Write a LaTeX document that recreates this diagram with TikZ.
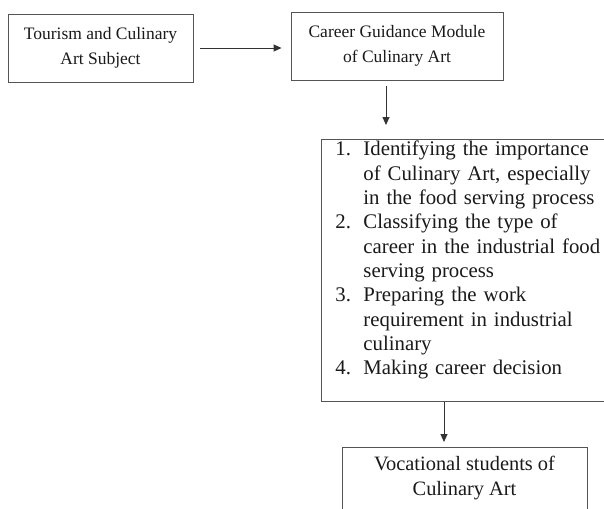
\documentclass[tikz,border=0pt]{standalone}
\usepackage{fontspec}
\setmainfont{Liberation Serif}
\usetikzlibrary{arrows.meta,calc}
\definecolor{boxline}{HTML}{555555}
\definecolor{txt}{HTML}{1A1A1A}
\begin{document}
\begin{tikzpicture}[x=1pt,y=-1pt,
  box/.style={draw=boxline,line width=0.9pt,rectangle,text=txt,
    font=\fontsize{17.5}{24.5}\selectfont,align=center,inner sep=0pt},
  arr/.style={draw=black!80,line width=0.9pt,-{Triangle[length=8pt,width=7pt]}}]
\useasboundingbox (0,0) rectangle (604,508);
\fill[white] (0,0) rectangle (604,508);
\node[box,minimum width=185pt,minimum height=68pt] (b1) at (100.5,48)
  {Tourism and Culinary\\Art Subject};
\node[box,minimum width=212pt,minimum height=68pt] (b2) at (397,46)
  {Career Guidance Module\\of Culinary Art};
\node[box,anchor=north west,align=left,text width=294pt,inner xsep=14pt,inner ysep=0pt,
  font=\fontsize{20.8}{24.3}\selectfont] (b3) at (321,139)
  {\rule{0pt}{16.5pt}\makebox[28pt][l]{1.}Identifying the importance\\
   \hspace*{28pt}of Culinary Art, especially\\
   \hspace*{28pt}in the food serving process\\
   \makebox[28pt][l]{2.}Classifying the type of\\
   \hspace*{28pt}career in the industrial food\\
   \hspace*{28pt}serving process\\
   \makebox[28pt][l]{3.}Preparing the work\\
   \hspace*{28pt}requirement in industrial\\
   \hspace*{28pt}culinary\\
   \makebox[28pt][l]{4.}Making career decision\rule[-27pt]{0pt}{1pt}};
\node[box,anchor=north,minimum width=245pt,font=\fontsize{20.4}{25}\selectfont] (b4) at (464.5,447)
  {\rule{0pt}{23pt}Vocational students of\\Culinary Art\rule[-40pt]{0pt}{1pt}};
\draw[arr,shorten <=7pt,shorten >=9pt] (b1.east) -- (b1.east -| b2.west);
\draw[arr,shorten <=6pt,shorten >=14pt] ([xshift=-11pt]b2.south) -- ([xshift=-11pt]b2.south |- b3.north);
\draw[arr,shorten >=5pt] ([xshift=123pt]b3.south west) -- ([xshift=123pt]b3.south west |- b4.north);
\end{tikzpicture}
\end{document}
